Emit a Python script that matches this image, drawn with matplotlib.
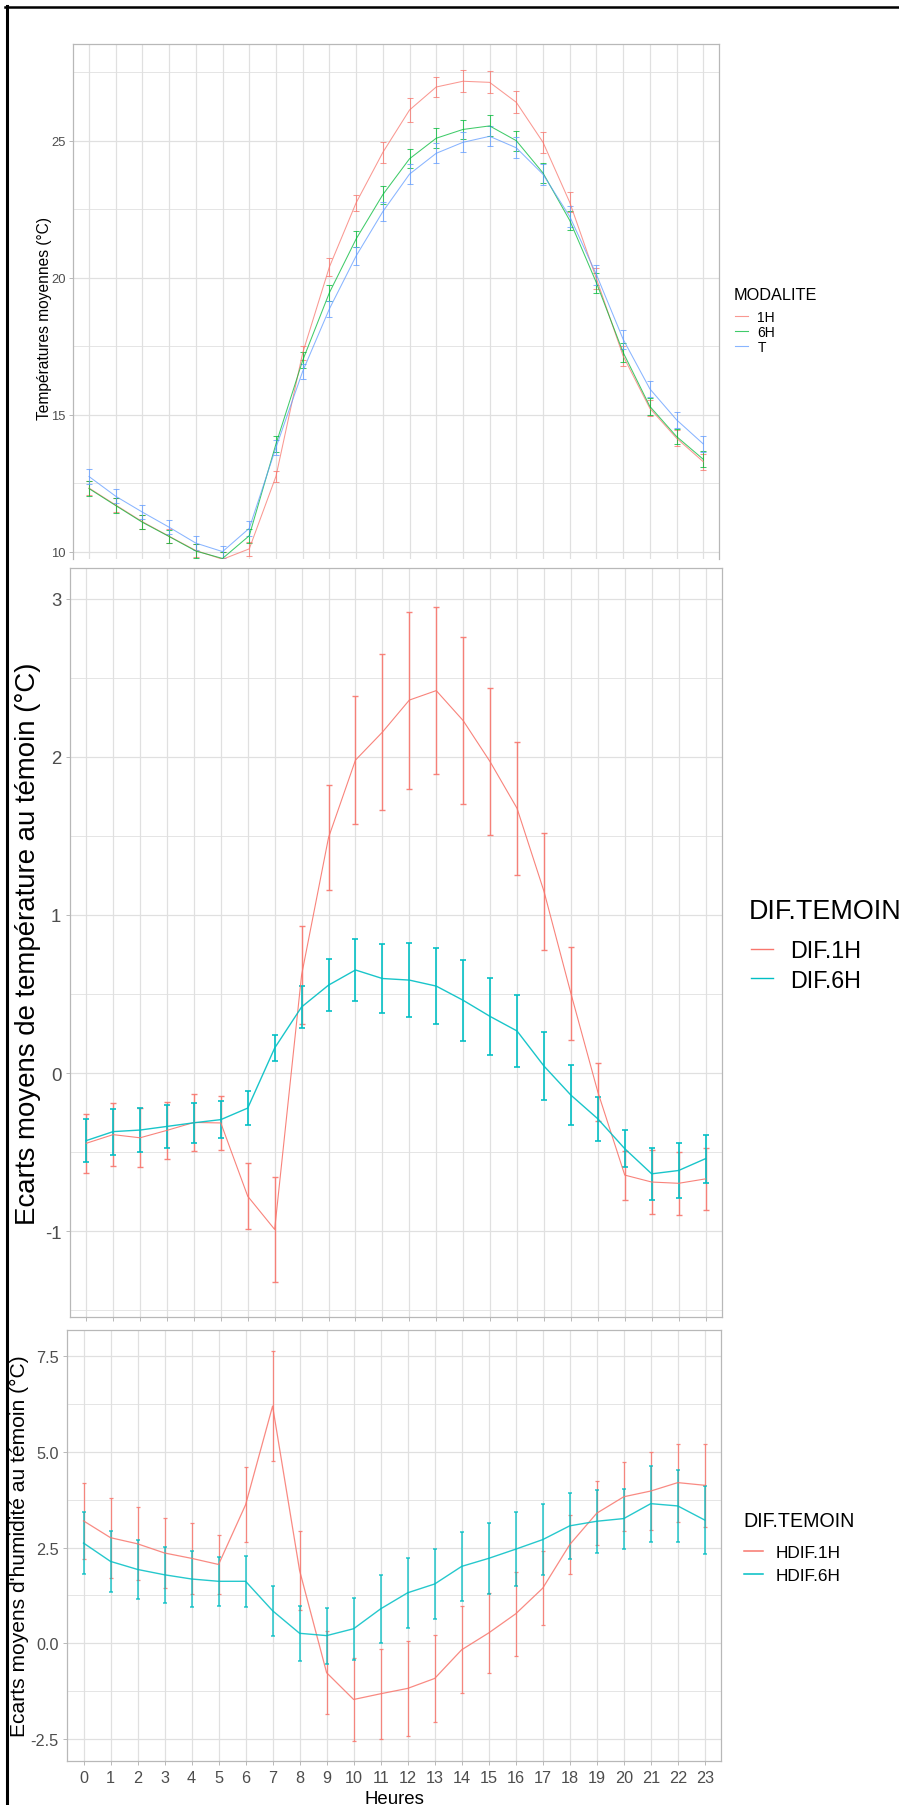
import matplotlib
matplotlib.use("Agg")
import matplotlib.pyplot as plt
from matplotlib.lines import Line2D

plt.rcParams["font.family"] = ["Liberation Sans", "DejaVu Sans"]
plt.rcParams["axes.unicode_minus"] = False

# --- data -------------------------------------------------------------
hours = list(range(24))

# mean temperatures per modality (°C) and error-bar half widths
temp_1h = [12.32, 11.70, 11.09, 10.56, 10.04, 9.72, 10.10, 12.75, 17.25, 20.39, 22.73, 24.57,
           26.12, 26.96, 27.17, 27.13, 26.40, 24.94, 22.75, 19.96, 17.14, 15.23, 14.14, 13.28]
temp_6h = [12.30, 11.68, 11.07, 10.55, 10.02, 9.75, 10.58, 13.93, 16.98, 19.45, 21.41, 23.03,
           24.34, 25.09, 25.41, 25.54, 25.00, 23.82, 22.09, 19.81, 17.27, 15.30, 14.20, 13.37]
temp_t = [12.74, 12.02, 11.44, 10.89, 10.31, 10.00, 10.85, 13.80, 16.58, 18.86, 20.79, 22.41,
          23.78, 24.54, 24.94, 25.16, 24.74, 23.77, 22.23, 20.11, 17.75, 15.94, 14.81, 13.93]
err_temp_1h = [0.25, 0.25, 0.25, 0.25, 0.25, 0.25, 0.25, 0.21, 0.27, 0.32, 0.30, 0.37,
               0.43, 0.35, 0.40, 0.40, 0.40, 0.39, 0.37, 0.38, 0.35, 0.29, 0.29, 0.29]
err_temp_6h = [0.27, 0.27, 0.25, 0.25, 0.25, 0.25, 0.25, 0.28, 0.29, 0.29, 0.30, 0.33,
               0.35, 0.36, 0.35, 0.38, 0.36, 0.36, 0.35, 0.36, 0.34, 0.32, 0.26, 0.29]
err_temp_t = [0.29, 0.26, 0.26, 0.26, 0.26, 0.22, 0.28, 0.26, 0.27, 0.30, 0.32, 0.35,
              0.37, 0.36, 0.36, 0.36, 0.38, 0.38, 0.38, 0.37, 0.35, 0.30, 0.30, 0.28]

# temperature gap to the control plot (°C)
dif_1h = [-0.445, -0.39, -0.41, -0.363, -0.313, -0.316, -0.78, -0.99, 0.62, 1.49, 1.98, 2.157,
          2.36, 2.42, 2.23, 1.97, 1.675, 1.15, 0.504, -0.12, -0.646, -0.69, -0.698, -0.67]
err_dif_1h = [0.186, 0.198, 0.187, 0.18, 0.18, 0.17, 0.21, 0.334, 0.31, 0.334, 0.404, 0.494,
              0.56, 0.53, 0.53, 0.465, 0.42, 0.37, 0.293, 0.185, 0.155, 0.2, 0.2, 0.195]
dif_6h = [-0.428, -0.371, -0.361, -0.338, -0.315, -0.295, -0.222, 0.158, 0.418, 0.556, 0.652, 0.598,
          0.588, 0.55, 0.46, 0.358, 0.266, 0.044, -0.14, -0.29, -0.479, -0.638, -0.617, -0.542]
err_dif_6h = [0.137, 0.145, 0.139, 0.136, 0.128, 0.116, 0.107, 0.085, 0.135, 0.166, 0.195, 0.22,
              0.235, 0.243, 0.255, 0.244, 0.228, 0.215, 0.19, 0.139, 0.118, 0.163, 0.175, 0.151]

# humidity gap to the control plot
hdif_1h = [3.20, 2.76, 2.60, 2.36, 2.22, 2.06, 3.62, 6.20, 1.90, -0.77, -1.47, -1.32,
           -1.18, -0.92, -0.17, 0.27, 0.77, 1.44, 2.58, 3.40, 3.83, 3.98, 4.20, 4.13]
err_hdif_1h = [0.99, 1.05, 0.95, 0.92, 0.92, 0.78, 0.98, 1.43, 1.04, 1.09, 1.08, 1.18,
               1.24, 1.14, 1.14, 1.05, 1.09, 0.97, 0.78, 0.84, 0.90, 1.01, 1.02, 1.08]
hdif_6h = [2.62, 2.14, 1.93, 1.79, 1.68, 1.62, 1.62, 0.85, 0.26, 0.20, 0.38, 0.90,
           1.32, 1.55, 2.01, 2.22, 2.46, 2.71, 3.07, 3.19, 3.26, 3.65, 3.59, 3.22]
err_hdif_6h = [0.815, 0.79, 0.76, 0.73, 0.72, 0.64, 0.67, 0.66, 0.72, 0.73, 0.815, 0.885,
               0.915, 0.915, 0.907, 0.924, 0.968, 0.937, 0.863, 0.824, 0.785, 0.99, 0.937, 0.898]

# --- style ------------------------------------------------------------
RED, GREEN, BLUE, CYAN = "#F8766D", "#00BA38", "#619CFF", "#00BFC4"
GRID = "#E0E0E0"
BORDER = "#B8B8B8"
TICK_TXT = "#4D4D4D"

W, H = 899, 1806
fig = plt.figure(figsize=(W / 100, H / 100), dpi=100)


def fx(x):
    return x / W


def fy(y):
    return 1 - y / H


def rect(x0, y0, x1, y1):
    return [fx(x0), fy(y1), (x1 - x0) / W, (y1 - y0) / H]


def style_panel(ax, ylim, ymajor, ylabels, yminor, size, pad):
    ax.set_xlim(-0.6, 23.6)
    ax.set_ylim(*ylim)
    ax.set_xticks(hours)
    ax.set_yticks(ymajor)
    ax.set_yticklabels(ylabels)
    ax.set_yticks(yminor, minor=True)
    ax.set_axisbelow(True)
    ax.grid(which="major", color=GRID, lw=0.9)
    ax.grid(which="minor", color=GRID, lw=0.6)
    for s in ax.spines.values():
        s.set_color(BORDER)
        s.set_linewidth(0.9)
    ax.tick_params(which="major", color=BORDER, length=2.9, width=0.7,
                   labelcolor=TICK_TXT, labelsize=size, pad=pad)
    ax.tick_params(which="minor", length=0)


def draw_series(ax, y, err, color, lw, elw, cap, alpha):
    ax.errorbar(hours, y, yerr=err, color=color, lw=lw, elinewidth=elw,
                capsize=cap, capthick=elw, alpha=alpha)


def legend(title, labels, colors, x_title, x_key0, x_key1, x_text,
           y_title, y_rows, title_size, text_size, key_lw, alpha=1.0):
    # baseline placed so that capitals sit centred on the given row
    px = 100 / 72
    fig.text(fx(x_title), fy(y_title + 0.358 * title_size * px), title,
             fontsize=title_size, va="baseline", ha="left")
    for lab, col, y in zip(labels, colors, y_rows):
        fig.add_artist(Line2D([fx(x_key0), fx(x_key1)], [fy(y), fy(y)],
                              color=col, lw=key_lw, alpha=alpha))
        fig.text(fx(x_text), fy(y + 0.358 * text_size * px), lab,
                 fontsize=text_size, va="baseline", ha="left")


# --- top panel: mean temperatures ------------------------------------
ax1 = fig.add_axes(rect(73, 45, 719.3, 560))
style_panel(ax1, (9.73, 28.53), [10, 15, 20, 25], ["10", "15", "20", "25"],
            [12.5, 17.5, 22.5, 27.5], 9.4, 2.3)
ax1.spines["bottom"].set_visible(False)
ax1.tick_params(axis="x", length=0, labelbottom=False)
for y, e, c in [(temp_1h, err_temp_1h, RED), (temp_6h, err_temp_6h, GREEN), (temp_t, err_temp_t, BLUE)]:
    draw_series(ax1, y, e, c, 0.75, 0.75, 2.0, 0.75)
fig.text(fx(44.5), fy(319), "Températures moyennes (°C)", rotation=90,
         fontsize=11.2, ha="center", va="center")
legend("MODALITE", ["1H", "6H", "T"], [RED, GREEN, BLUE], 734, 735, 747.7, 757.3,
       294, [316.7, 331.7, 346.7], 11.7, 10, 0.8, alpha=0.75)

# --- middle panel: temperature gap -----------------------------------
ax2 = fig.add_axes(rect(70, 569.3, 721.7, 1318.3))
style_panel(ax2, (-1.546, 3.194), [-1, 0, 1, 2, 3], ["-1", "0", "1", "2", "3"],
            [-1.5, -0.5, 0.5, 1.5, 2.5], 13.4, 3.4)
ax2.tick_params(axis="x", labelbottom=False)
draw_series(ax2, dif_1h, err_dif_1h, RED, 0.8, 1.0, 1.9, 0.9)
draw_series(ax2, dif_6h, err_dif_6h, CYAN, 1.0, 1.3, 1.9, 0.9)
fig.text(fx(28), fy(944), "Ecarts moyens de température au témoin (°C)", rotation=90,
         fontsize=19.9, ha="center", va="center")
legend("DIF.TEMOIN", ["DIF.1H", "DIF.6H"], [RED, CYAN], 749, 751, 773.3, 790,
       909.3, [950, 979.3], 19.4, 16.8, 1.0)

# --- bottom panel: humidity gap --------------------------------------
ax3 = fig.add_axes(rect(67.3, 1331, 721, 1762.3))
style_panel(ax3, (-3.086, 8.19), [-2.5, 0, 2.5, 5, 7.5], ["-2.5", "0.0", "2.5", "5.0", "7.5"],
            [-1.25, 1.25, 3.75, 6.25], 11.7, 3.4)
ax3.set_xticklabels([str(h) for h in hours])
draw_series(ax3, hdif_1h, err_hdif_1h, RED, 0.9, 0.9, 1.7, 0.85)
draw_series(ax3, hdif_6h, err_hdif_6h, CYAN, 1.0, 1.1, 1.7, 0.85)
fig.text(fx(19.7), fy(1546), "Ecarts moyens d'humidité au témoin (°C)", rotation=90,
         fontsize=15.1, ha="center", va="center")
fig.text(fx(394), fy(1797 + 0.358 * 13.4 * 100 / 72), "Heures", fontsize=13.4,
         ha="center", va="baseline")
legend("DIF.TEMOIN", ["HDIF.1H", "HDIF.6H"], [RED, CYAN], 743.3, 744.3, 763.3, 776,
       1520, [1552.3, 1575], 14.1, 12.4, 1.1)

# frame along the top and left edges
fig.add_artist(Line2D([fx(5), 1], [fy(7.8), fy(7.8)], color="black", lw=1.8))
fig.add_artist(Line2D([fx(6.5), fx(6.5)], [fy(7), 0], color="black", lw=2.2))

fig.savefig("out.png", dpi=100)
